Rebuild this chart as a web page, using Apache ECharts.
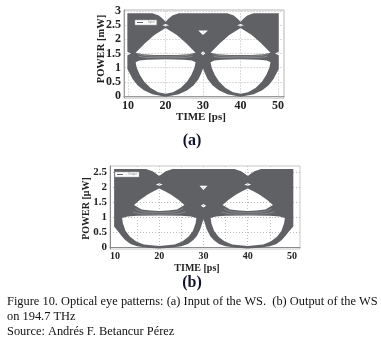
<!DOCTYPE html>
<html>
<head>
<meta charset="utf-8">
<script src="https://cdn.jsdelivr.net/npm/echarts@6/dist/echarts.min.js"></script>
<style>
  html, body { margin: 0; padding: 0; background: #fff; }
  #chart { width: 381px; height: 341px; }
</style>
</head>
<body>
<div id="chart"></div>
<script>
// tick labels
const timeTicks = [10, 20, 30, 40, 50];
const powerTicksA = [0, 0.5, 1, 1.5, 2, 2.5, 3];
const powerTicksB = [0, 0.5, 1, 1.5, 2, 2.5];
const gridTicksB = [15, 20, 25, 30, 35, 40, 45];

// (a) input eye as [time ps, power mW]
// outer edge of the trace cloud
const outlineA = [
  [9.8, 2.92], [16.5, 2.92], [18.2, 2.84], [19.3, 2.72], [20, 2.62], [20.7, 2.72], [21.8, 2.84], [23.5, 2.92],
  [36.5, 2.92], [38.2, 2.84], [39.3, 2.72], [40, 2.62], [40.7, 2.72], [41.8, 2.84], [43.5, 2.92], [50.2, 2.92],
  [50.2, 1.56], [49.2, 1.5], [50.2, 1.44], [50.2, 0.95],
  [49.6, 0.8], [48.8, 0.6], [47.5, 0.38], [45.8, 0.2], [43.5, 0.06], [40, -0.03],
  [36.5, 0.06], [34.2, 0.2], [32.5, 0.38], [31.2, 0.6], [30.5, 0.8], [30, 0.97],
  [29.5, 0.8], [28.8, 0.6], [27.5, 0.38], [25.8, 0.2], [23.5, 0.06], [20, -0.03],
  [16.5, 0.06], [14.2, 0.2], [12.5, 0.38], [11.2, 0.6], [10.4, 0.8], [9.8, 0.95],
  [9.8, 1.44], [10.8, 1.5], [9.8, 1.56]
];
// open parts of the eye
const lensA20 = [[20, 2.4], [18.5, 2.28], [17, 2.15], [14.5, 1.86], [12, 1.53], [14, 1.47], [17, 1.45], [20, 1.45], [23, 1.45], [26, 1.47], [28, 1.53], [25.5, 1.86], [23, 2.15], [21.5, 2.28]];
const lensA40 = [[40, 2.4], [38.5, 2.28], [37, 2.15], [34.5, 1.86], [32, 1.53], [34, 1.47], [37, 1.45], [40, 1.45], [43, 1.45], [46, 1.47], [48, 1.53], [45.5, 1.86], [43, 2.15], [41.5, 2.28]];
const lowA20 = [[12, 1.19], [13, 1.25], [15, 1.28], [20, 1.3], [25, 1.28], [27, 1.25], [28, 1.19], [27.7, 1.0], [26.9, 0.75], [25.7, 0.5], [24, 0.28], [22, 0.13], [20, 0.08], [18, 0.13], [16, 0.28], [14.3, 0.5], [13.1, 0.75], [12.3, 1.0]];
const lowA40 = [[32, 1.19], [33, 1.25], [35, 1.28], [40, 1.3], [45, 1.28], [47, 1.25], [48, 1.19], [47.7, 1.0], [46.9, 0.75], [45.7, 0.5], [44, 0.28], [42, 0.13], [40, 0.08], [38, 0.13], [36, 0.28], [34.3, 0.5], [33.1, 0.75], [32.3, 1.0]];
const dotA20 = [[19.1, 2.5], [20, 2.545], [20.9, 2.5], [20, 2.455]];
const dotA40 = [[39.1, 2.5], [40, 2.545], [40.9, 2.5], [40, 2.455]];
const triA30 = [[28.7, 2.31], [31.3, 2.31], [30, 2.15]];
const diaA30 = [[29.4, 1.51], [30, 1.58], [30.6, 1.51], [30, 1.44]];
// lighter traces in the band under each upper eye
const stripesA = [
  [[12.5, 1.5], [15, 1.42], [20, 1.4], [25, 1.42], [27.5, 1.5]],
  [[12.8, 1.41], [15, 1.36], [20, 1.35], [25, 1.36], [27.2, 1.41]],
  [[32.5, 1.5], [35, 1.42], [40, 1.4], [45, 1.42], [47.5, 1.5]],
  [[32.8, 1.41], [35, 1.36], [40, 1.35], [45, 1.36], [47.2, 1.41]],
];

// (b) output eye, [time ps, power uW]
const outlineB = [
  [9.8, 2.62], [17, 2.62], [18.5, 2.54], [19.4, 2.45], [20, 2.38], [20.6, 2.45], [21.5, 2.54], [23, 2.62],
  [37, 2.62], [38.5, 2.54], [39.4, 2.45], [40, 2.38], [40.6, 2.45], [41.5, 2.54], [43, 2.62], [50.3, 2.62],
  [50.3, 0.7], [49.3, 0.53], [48.5, 0.38], [47.7, 0.25], [46.5, 0.12], [45, 0.04], [42.5, -0.01], [40, -0.03],
  [37.5, -0.01], [35, 0.04], [33.5, 0.12], [32.3, 0.25], [31.5, 0.38], [30.7, 0.62], [30, 0.95],
  [29.3, 0.62], [28.5, 0.38], [27.7, 0.25], [26.5, 0.12], [25, 0.04], [22.5, -0.01], [20, -0.03],
  [17.5, -0.01], [15, 0.04], [13.5, 0.12], [12.3, 0.25], [11.5, 0.38], [10.7, 0.53], [9.8, 0.7]
];
const lensB20 = [[20, 1.97], [18.6, 1.87], [17.3, 1.76], [15.6, 1.58], [14.3, 1.42], [16, 1.27], [18, 1.23], [20, 1.22], [22, 1.23], [24, 1.27], [25.7, 1.42], [24.4, 1.58], [22.7, 1.76], [21.4, 1.87]];
const lensB40 = [[40, 1.97], [38.6, 1.87], [37.3, 1.76], [35.6, 1.58], [34.3, 1.42], [36, 1.27], [38, 1.23], [40, 1.22], [42, 1.23], [44, 1.27], [45.7, 1.42], [44.4, 1.58], [42.7, 1.76], [41.4, 1.87]];
const lowB20 = [[11.6, 0.98], [12.8, 1.03], [15, 1.06], [20, 1.07], [25, 1.06], [27.2, 1.03], [28.4, 0.98], [28.2, 0.8], [27.6, 0.55], [26.6, 0.36], [25.2, 0.2], [23.5, 0.1], [20, 0.05], [16.5, 0.1], [14.8, 0.2], [13.4, 0.36], [12.4, 0.55], [11.8, 0.8]];
const lowB40 = [[31.6, 0.98], [32.8, 1.03], [35, 1.06], [40, 1.07], [45, 1.06], [47.2, 1.03], [48.4, 0.98], [48.2, 0.8], [47.6, 0.55], [46.6, 0.36], [45.2, 0.2], [43.5, 0.1], [40, 0.05], [36.5, 0.1], [34.8, 0.2], [33.4, 0.36], [32.4, 0.55], [31.8, 0.8]];
const dotB20 = [[19.2, 2.1], [20, 2.14], [20.8, 2.1], [20, 2.06]];
const dotB40 = [[39.2, 2.1], [40, 2.14], [40.8, 2.1], [40, 2.06]];
const triB30 = [[29.1, 2.06], [30.9, 2.06], [30, 1.92]];
const diaB30 = [[29.4, 1.39], [30, 1.45], [30.6, 1.39], [30, 1.33]];
const stripesB = [
  [[14.6, 1.3], [16.5, 1.19], [20, 1.17], [23.5, 1.19], [25.4, 1.3]],
  [[14, 1.19], [16.5, 1.12], [20, 1.11], [23.5, 1.12], [26, 1.19]],
  [[34.6, 1.3], [36.5, 1.19], [40, 1.17], [43.5, 1.19], [45.4, 1.3]],
  [[34, 1.19], [36.5, 1.12], [40, 1.11], [43.5, 1.12], [46, 1.19]],
];

const holesA = [lensA20, lensA40, lowA20, lowA40, dotA20, dotA40, triA30, diaA30];
const holesB = [lensB20, lensB40, lowB20, lowB40, dotB20, dotB40, triB30, diaB30];

const eyeColor = '#5f6164';
const stripeColor = '#a3a5a8';
const serif = '"Liberation Serif", "Times New Roman", serif';

// one closed sub-path, wound in the wanted direction so holes stay open (nonzero fill)
function ring(api, pts, dir) {
  const px = pts.map((p) => api.coord(p));
  let area = 0;
  for (let i = 0; i < px.length; i++) {
    const a = px[i], b = px[(i + 1) % px.length];
    area += a[0] * b[1] - b[0] * a[1];
  }
  if (Math.sign(area) !== dir) px.reverse();
  return 'M' + px.map((p) => p[0].toFixed(2) + ' ' + p[1].toFixed(2)).join('L') + 'Z';
}

function eyeItem(outline, holes) {
  return (params, api) => {
    let d = ring(api, outline, 1);
    holes.forEach((h) => { d += ring(api, h, -1); });
    return { type: 'path', shape: { pathData: d }, style: { fill: eyeColor } };
  };
}

const stripeSeries = (list, idx) => list.map((pts) => ({
  type: 'line', xAxisIndex: idx, yAxisIndex: idx, data: pts, smooth: true,
  showSymbol: false, silent: true, z: 3,
  lineStyle: { color: stripeColor, width: 0.6 },
}));

const tickFont = { fontFamily: serif, fontWeight: 'bold', color: '#222' };

const chart = echarts.init(document.getElementById('chart'), null, { renderer: 'canvas' });

chart.setOption({
  animation: false,
  grid: [
    { left: 124, top: 10, width: 160, height: 88, show: true, borderColor: '#b5b5b5', borderWidth: 1 },
    { left: 110, top: 166, width: 190, height: 83, show: true, borderColor: '#c8c8c8', borderWidth: 1 },
  ],
  xAxis: [
    {
      gridIndex: 0, type: 'value', min: 8.9, max: 51.6,
      axisLine: { show: true, lineStyle: { color: '#9a9a9a' } },
      axisTick: { show: false, customValues: timeTicks },
      axisLabel: { customValues: timeTicks, margin: 2, fontSize: 12, ...tickFont },
      splitLine: { show: true, lineStyle: { color: '#dcdcdc', type: [2, 1] } },
    },
    {
      gridIndex: 1, type: 'value', min: 8.87, max: 51.81,
      axisLine: { show: true, lineStyle: { color: '#8a8a8a' } },
      axisTick: { show: false, customValues: gridTicksB },
      axisLabel: { customValues: timeTicks, margin: 2, fontSize: 10, ...tickFont },
      splitLine: { show: true, lineStyle: { color: '#bdbdbd', type: [1, 2] } },
    },
  ],
  yAxis: [
    {
      gridIndex: 0, type: 'value', min: -0.07, max: 3.035,
      axisLine: { show: true, lineStyle: { color: '#9a9a9a' } },
      axisTick: { show: false, customValues: powerTicksA },
      axisLabel: { customValues: powerTicksA, margin: 3, fontSize: 12, ...tickFont },
      splitLine: { show: true, lineStyle: { color: '#dcdcdc', type: [2, 1] } },
    },
    {
      gridIndex: 1, type: 'value', min: -0.05, max: 2.717,
      axisLine: { show: true, lineStyle: { color: '#8a8a8a' } },
      axisTick: { show: false, customValues: powerTicksB },
      axisLabel: { customValues: powerTicksB, margin: 3, fontSize: 11, ...tickFont },
      splitLine: { show: true, lineStyle: { color: '#bdbdbd', type: [1, 2] } },
    },
  ],
  legend: [
    {
      data: ['Input'], left: 135, top: 20, orient: 'horizontal',
      backgroundColor: '#fff', borderColor: '#aaa', borderWidth: 0.5, padding: [1, 2],
      icon: 'rect', itemWidth: 6, itemHeight: 1, itemGap: 2,
      textStyle: { fontSize: 3, color: '#888', padding: 0 }, selectedMode: false,
    },
    {
      data: ['Output'], left: 115, top: 172, orient: 'horizontal',
      backgroundColor: '#fff', borderColor: '#aaa', borderWidth: 0.5, padding: [1, 2],
      icon: 'rect', itemWidth: 6, itemHeight: 1, itemGap: 2,
      textStyle: { fontSize: 3, color: '#888', padding: 0 }, selectedMode: false,
    },
  ],
  series: [
    {
      type: 'custom', name: 'Input', xAxisIndex: 0, yAxisIndex: 0,
      data: [[30, 1.5]], encode: { x: 0, y: 1 }, clip: true, silent: true,
      itemStyle: { color: eyeColor },
      renderItem: eyeItem(outlineA, holesA),
    },
    {
      type: 'custom', name: 'Output', xAxisIndex: 1, yAxisIndex: 1,
      data: [[30, 1.2]], encode: { x: 0, y: 1 }, clip: true, silent: true,
      itemStyle: { color: eyeColor },
      renderItem: eyeItem(outlineB, holesB),
    },
    ...stripeSeries(stripesA, 0),
    ...stripeSeries(stripesB, 1),
  ],
  graphic: [
    { type: 'text', x: 201, y: 117, style: { text: 'TIME [ps]', font: 'bold 11px ' + serif, fill: '#222', align: 'center', verticalAlign: 'middle' } },
    { type: 'text', x: 101, y: 49, rotation: Math.PI / 2, style: { text: 'POWER [mW]', font: 'bold 10.5px ' + serif, fill: '#222', align: 'center', verticalAlign: 'middle' } },
    { type: 'text', x: 192, y: 141, style: { text: '(a)', font: 'bold 16px ' + serif, fill: '#111133', align: 'center', verticalAlign: 'middle' } },
    { type: 'text', x: 197, y: 268, style: { text: 'TIME [ps]', font: 'bold 10px ' + serif, fill: '#222', align: 'center', verticalAlign: 'middle' } },
    { type: 'text', x: 86.5, y: 208.5, rotation: Math.PI / 2, style: { text: 'POWER [\u03bcW]', font: 'bold 10px ' + serif, fill: '#222', align: 'center', verticalAlign: 'middle' } },
    { type: 'text', x: 192, y: 283, style: { text: '(b)', font: 'bold 16px ' + serif, fill: '#111133', align: 'center', verticalAlign: 'middle' } },
    { type: 'text', x: 7, y: 302, style: { text: 'Figure 10. Optical eye patterns: (a) Input of the WS.  (b) Output of the WS', font: '12.4px ' + serif, fill: '#111', align: 'left', verticalAlign: 'middle' } },
    { type: 'text', x: 7, y: 317, style: { text: 'on 194.7 THz', font: '12.4px ' + serif, fill: '#111', align: 'left', verticalAlign: 'middle' } },
    { type: 'text', x: 7, y: 332, style: { text: 'Source: Andr\u00e9s F. Betancur P\u00e9rez', font: '12.4px ' + serif, fill: '#111', align: 'left', verticalAlign: 'middle' } },
  ],
});
</script>
</body>
</html>
